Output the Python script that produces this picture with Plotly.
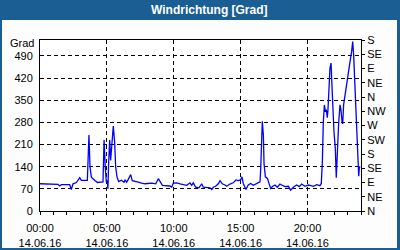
import plotly.graph_objects as go

# time in hours (14.06.16), wind direction in degrees
hours = [0, 0.72, 0.85, 1.35, 1.47, 1.6, 2.22, 2.34, 2.47, 2.72, 2.97, 3.09, 3.54, 3.59, 3.66, 3.74,
         3.84, 4.09, 4.29, 4.71, 4.79, 4.88, 4.96, 5.03, 5.08, 5.13, 5.21, 5.28, 5.33, 5.41, 5.48,
         5.58, 5.66, 5.76, 5.88, 6.08, 6.28, 6.36, 6.48, 6.6, 6.78, 6.9, 7.1, 7.35, 7.6, 7.85, 8.35,
         8.65, 8.85, 8.97, 9.15, 9.72, 9.85, 9.97, 10.22, 10.47, 10.72, 10.97, 11.21, 11.34, 11.46,
         11.64, 11.89, 12.09, 12.21, 12.71, 12.84, 12.96, 13.13, 13.33, 13.46, 13.63, 13.83, 13.96,
         14.2, 14.45, 14.65, 14.83, 15.0, 15.1, 15.2, 15.4, 15.57, 15.75, 15.95, 16.15, 16.45, 16.5,
         16.55, 16.62, 16.7, 16.75, 16.85, 17.0, 17.14, 17.25, 17.4, 17.57, 17.74, 17.94, 18.07,
         18.32, 18.57, 18.74, 18.94, 19.19, 19.39, 19.56, 19.81, 20.06, 20.19, 20.44, 20.69, 20.93,
         21.03, 21.11, 21.18, 21.26, 21.33, 21.41, 21.48, 21.53, 21.61, 21.68, 21.76, 21.81, 21.88,
         21.98, 22.08, 22.15, 22.23, 22.33, 22.43, 22.5, 22.58, 22.63, 22.7, 22.8, 22.93, 23.05,
         23.18, 23.3, 23.38, 23.45, 23.53, 23.6, 23.68, 23.75, 23.83, 23.88, 23.95]
degrees = [86, 86, 84, 84, 79, 83, 83, 68, 86, 90, 105, 97, 97, 139, 240, 139,
           107, 97, 90, 92, 224, 139, 91, 97, 70, 150, 224, 160, 192, 250, 268,
           218, 139, 107, 93, 97, 91, 98, 91, 100, 115, 96, 93, 91, 88, 86, 88,
           86, 102, 95, 81, 79, 75, 88, 89, 86, 83, 81, 89, 81, 89,
           75, 73, 86, 75, 73, 68, 75, 78, 86, 96, 86, 82, 78,
           85, 89, 98, 96, 98, 108, 87, 68, 82, 87, 81, 85, 92, 131,
           235, 283, 240, 150, 108, 103, 85, 71, 78, 82, 75, 85, 82,
           77, 78, 66, 75, 82, 77, 85, 78, 82, 81, 78, 83, 80,
           87, 155, 277, 335, 316, 318, 295, 319, 388, 451, 467, 430, 345,
           250, 197, 105, 208, 277, 335, 320, 282, 275, 335, 366, 393, 446,
           472, 504, 535, 493, 409, 324, 229, 166, 110, 139, 139]

x_tickvals = [0, 5, 10, 15, 20]
x_ticktext = ["00:00<br>14.06.16", "05:00<br>14.06.16", "10:00<br>14.06.16",
              "15:00<br>14.06.16", "20:00<br>14.06.16"]
y_tickvals = [0, 70, 140, 210, 280, 350, 420, 490]
compass_vals = [0, 45, 90, 135, 180, 225, 270, 315, 360, 405, 450, 495, 540]
compass_text = ["N", "NE", "E", "SE", "S", "SW", "W", "NW", "N", "NE", "E", "SE", "S"]

L, T, W, H = 40, 40, 321, 171
def px(x): return (x - L) / W
def py(y): return (T + H - y) / H

BLUE = "#1b5e94"
FONT = "Liberation Sans"

fig = go.Figure()
fig.add_trace(go.Scatter(x=hours, y=degrees, mode="lines",
                         line=dict(color="#0000ff", width=1.3), showlegend=False))
fig.add_trace(go.Scatter(x=[0], y=[0], yaxis="y2", mode="markers",
                         marker=dict(opacity=0), showlegend=False, hoverinfo="skip"))

fig.update_layout(
    width=400, height=250,
    margin=dict(l=L, r=400 - L - W, t=T, b=250 - T - H, pad=0, autoexpand=False),
    paper_bgcolor="#fcfdfc", plot_bgcolor="white",
    font=dict(family=FONT, size=11, color="black"),
    xaxis=dict(range=[0, 24], tickvals=x_tickvals, ticktext=x_ticktext, automargin=False,
               showgrid=True, gridcolor="black", griddash="4px,3px", gridwidth=1,
               showline=True, linecolor="black", linewidth=1, mirror=True,
               ticks="outside", ticklen=3, tickcolor="black", ticklabelstandoff=4,
               minor=dict(dtick=1, ticks="outside", ticklen=3, tickcolor="black", showgrid=False),
               zeroline=False, fixedrange=True),
    yaxis=dict(range=[0, 540], tickvals=y_tickvals, automargin=False,
               showgrid=True, gridcolor="black", griddash="4px,3px", gridwidth=1,
               showline=True, linecolor="black", linewidth=1,
               ticks="", ticklabelstandoff=4, zeroline=False),
    yaxis2=dict(range=[0, 540], tickvals=compass_vals, ticktext=compass_text, automargin=False,
                overlaying="y", side="right", showgrid=False,
                showline=True, linecolor="black", linewidth=1,
                ticks="outside", ticklen=3, tickcolor="black", zeroline=False),
    shapes=[
        dict(type="rect", xref="paper", yref="paper", x0=px(0), x1=px(400), y0=py(20), y1=py(0),
             fillcolor=BLUE, line=dict(width=0)),
        dict(type="rect", xref="paper", yref="paper", x0=px(0), x1=px(2), y0=py(250), y1=py(20),
             fillcolor=BLUE, line=dict(width=0)),
        dict(type="rect", xref="paper", yref="paper", x0=px(397), x1=px(400), y0=py(250), y1=py(20),
             fillcolor=BLUE, line=dict(width=0)),
        dict(type="rect", xref="paper", yref="paper", x0=px(0), x1=px(400), y0=py(250), y1=py(248),
             fillcolor=BLUE, line=dict(width=0)),
    ],
    annotations=[
        dict(text="<b>Windrichtung [Grad]</b>", xref="paper", yref="paper", x=px(210), y=py(10),
             xanchor="center", yanchor="middle", showarrow=False,
             font=dict(family=FONT, size=12, color="white")),
        dict(text="Grad", xref="paper", yref="paper", x=px(36), y=py(43),
             xanchor="right", yanchor="middle", showarrow=False,
             font=dict(family=FONT, size=11, color="black")),
    ],
)

fig.write_html("out.html")
